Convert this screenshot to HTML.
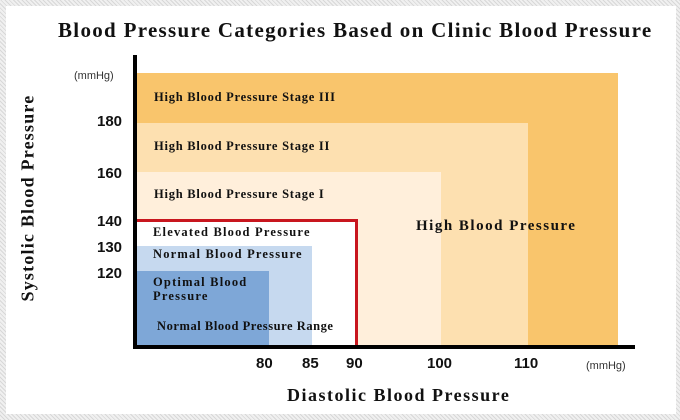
<!DOCTYPE html>
<html><head><style>
body{margin:0;width:680px;height:420px;overflow:hidden;background:repeating-linear-gradient(45deg,#d8d8d8 0 1px,#f0f0f0 1px 3px);}
.p{position:absolute;left:6px;top:6px;width:670px;height:408px;background:#fff}
.a{position:absolute}
.s{font-family:"Liberation Serif",serif;font-weight:bold;color:#111;white-space:nowrap;letter-spacing:1px}
.n{font-family:"Liberation Sans",sans-serif;font-weight:bold;font-size:15px;color:#111}
.u{font-family:"Liberation Sans",sans-serif;font-size:11px;color:#333}
</style></head><body>
<div class="p"></div>
<div class="a s" style="left:58px;top:18px;font-size:21px;letter-spacing:1.3px">Blood Pressure Categories Based on Clinic Blood Pressure</div>
<div class="a" style="left:137px;top:73px;width:481px;height:273px;background:#f9c56c"></div>
<div class="a" style="left:137px;top:123px;width:391px;height:223px;background:#fde0b0"></div>
<div class="a" style="left:137px;top:172px;width:304px;height:174px;background:#ffefdb"></div>
<div class="a" style="left:137px;top:219px;width:218px;height:127px;background:#fff;border-top:3px solid #c8161e;border-right:3px solid #c8161e;box-sizing:content-box"></div>
<div class="a" style="left:137px;top:246px;width:175px;height:100px;background:#c6d9ef"></div>
<div class="a" style="left:137px;top:271px;width:132px;height:75px;background:#7ea7d7"></div>
<div class="a" style="left:133px;top:55px;width:4px;height:294px;background:#000"></div>
<div class="a" style="left:133px;top:345px;width:502px;height:4px;background:#000"></div>
<div class="a s" style="left:154px;top:90px;font-size:12.5px;letter-spacing:0.75px">High Blood Pressure Stage III</div>
<div class="a s" style="left:154px;top:139px;font-size:12.5px;letter-spacing:0.75px">High Blood Pressure Stage II</div>
<div class="a s" style="left:154px;top:187px;font-size:12.5px;letter-spacing:0.75px">High Blood Pressure Stage I</div>
<div class="a s" style="left:416px;top:218px;font-size:15px;letter-spacing:1.5px">High Blood Pressure</div>
<div class="a s" style="left:153px;top:225px;font-size:12.5px;letter-spacing:1.2px">Elevated Blood Pressure</div>
<div class="a s" style="left:153px;top:247px;font-size:12.5px;letter-spacing:1.2px">Normal Blood Pressure</div>
<div class="a s" style="left:153px;top:275px;font-size:12.5px;line-height:14px;letter-spacing:1.2px">Optimal Blood<br>Pressure</div>
<div class="a s" style="left:157px;top:319px;font-size:12.5px;letter-spacing:0.55px">Normal Blood Pressure Range</div>
<div class="a u" style="left:74px;top:70px">(mmHg)</div>
<div class="a n" style="left:97px;top:113px">180</div>
<div class="a n" style="left:97px;top:165px">160</div>
<div class="a n" style="left:97px;top:213px">140</div>
<div class="a n" style="left:97px;top:239px">130</div>
<div class="a n" style="left:97px;top:265px">120</div>
<div class="a n" style="left:256px;top:355px">80</div>
<div class="a n" style="left:302px;top:355px">85</div>
<div class="a n" style="left:346px;top:355px">90</div>
<div class="a n" style="left:427px;top:355px">100</div>
<div class="a n" style="left:514px;top:355px">110</div>
<div class="a u" style="left:586px;top:360px">(mmHg)</div>
<div class="a s" style="left:287px;top:385px;font-size:18px;letter-spacing:1.5px">Diastolic Blood Pressure</div>
<div class="a s" style="left:28px;top:198px;font-size:18px;letter-spacing:1.2px;transform:translate(-50%,-50%) rotate(-90deg);transform-origin:center">Systolic Blood Pressure</div>
</body></html>
